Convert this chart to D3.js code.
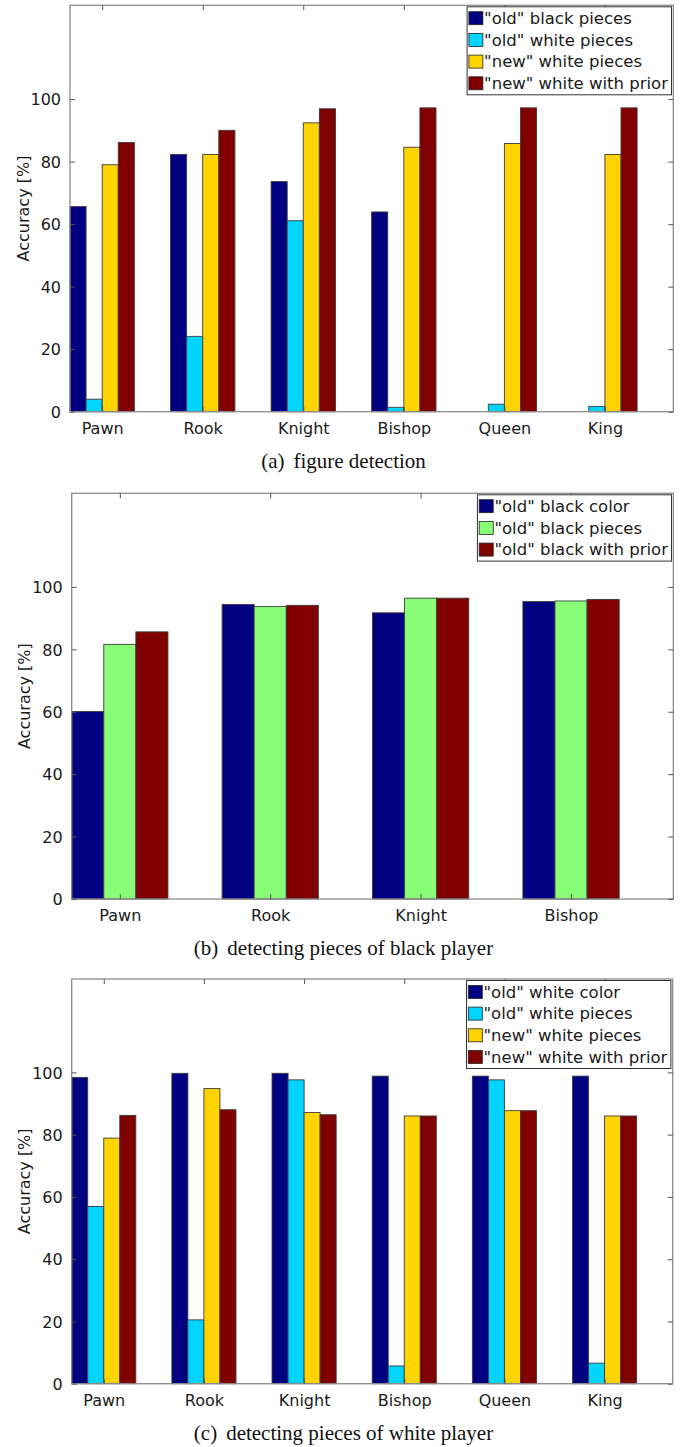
<!DOCTYPE html>
<html>
<head>
<meta charset="utf-8">
<script src="https://cdn.jsdelivr.net/npm/d3@7"></script>
<style>
  html, body { margin: 0; padding: 0; background: #fff; }
  svg { display: block; }
</style>
</head>
<body>
<svg id="fig" width="687" height="1447"></svg>
<script>
// ---- data ----
const piecesSix = ["Pawn", "Rook", "Knight", "Bishop", "Queen", "King"];
const piecesFour = ["Pawn", "Rook", "Knight", "Bishop"];
const yTicks = [0, 20, 40, 60, 80, 100];

// (a) figure detection
const detectionLabels = ['"old" black pieces', '"old" white pieces', '"new" white pieces', '"new" white with prior'];
const detOldBlack = [65.6, 82.3, 73.6, 63.9, 0, 0];
const detOldWhite = [4.0, 24.1, 61.1, 1.4, 2.4, 1.7];
const detNewWhite = [79.0, 82.3, 92.4, 84.6, 85.8, 82.3];
const detNewWhitePrior = [86.1, 90.0, 96.9, 97.2, 97.2, 97.2];

// (b) detecting pieces of black player
const blackLabels = ['"old" black color', '"old" black pieces', '"old" black with prior'];
const blackColor = [60.1, 94.4, 91.7, 95.3];
const blackPieces = [81.6, 93.7, 96.4, 95.5];
const blackPrior = [85.6, 94.1, 96.4, 96.0];

// (c) detecting pieces of white player
const whiteLabels = ['"old" white color', '"old" white pieces', '"new" white pieces', '"new" white with prior'];
const whiteColor = [98.4, 99.7, 99.7, 98.8, 98.8, 98.8];
const whiteOldPieces = [56.9, 20.5, 97.6, 5.7, 97.6, 6.6];
const whiteNewPieces = [78.9, 94.8, 87.1, 86.0, 87.7, 86.0];
const whiteNewPrior = [86.2, 88.0, 86.4, 86.0, 87.7, 86.0];

// ---- styling ----
const NAVY = "#000080", CYAN = "#00d4ff", YELLOW = "#ffd400", DARKRED = "#800000", GREEN = "#88ff77";
const SANS = "'DejaVu Sans', sans-serif";
const SERIF = "'Liberation Serif', 'Times New Roman', serif";
const PAGE_W = 687;

const svg = d3.select("#fig");

function drawPanel(p) {
  const g = svg.append("g");
  const n = p.categories.length;
  const k = p.series.length;

  const x = d3.scaleLinear().domain([0.68, n + 0.68]).range([p.left, p.right]);
  const y = d3.scaleLinear().domain([0, 130]).range([p.bottom, p.top]);

  const groupW = 0.64;
  const barW = groupW / k;

  // bars
  p.series.forEach((vals, s) => {
    g.append("g").selectAll("rect")
      .data(vals)
      .join("rect")
      .attr("x", (v, i) => x(i + 1 - groupW / 2 + s * barW))
      .attr("width", x(barW) - x(0))
      .attr("y", v => y(v))
      .attr("height", v => y(0) - y(v))
      .attr("fill", p.colors[s])
      .attr("stroke", "#3c3c3c")
      .attr("stroke-width", 0.9);
  });

  // frame
  g.append("rect")
    .attr("x", p.left).attr("y", p.top)
    .attr("width", p.right - p.left).attr("height", p.bottom - p.top)
    .attr("fill", "none").attr("stroke", "#8c8c8c").attr("stroke-width", 1.3);

  // y axes (left with labels, right mirrored), ticks pointing inward
  const yLeft = d3.axisLeft(y).tickValues(yTicks).tickSizeInner(-5).tickSizeOuter(0).tickPadding(9);
  const gl = g.append("g").attr("transform", `translate(${p.left},0)`).call(yLeft);
  const yRight = d3.axisRight(y).tickValues(yTicks).tickSizeInner(-5).tickSizeOuter(0).tickFormat("");
  const gr = g.append("g").attr("transform", `translate(${p.right},0)`).call(yRight);

  // x axes (bottom with labels, top mirrored)
  const cats = d3.range(1, n + 1);
  const xBottom = d3.axisBottom(x).tickValues(cats).tickSizeInner(-5).tickSizeOuter(0).tickPadding(11)
    .tickFormat(i => p.categories[i - 1]);
  const gb = g.append("g").attr("transform", `translate(0,${p.bottom})`).call(xBottom);
  const xTop = d3.axisTop(x).tickValues(cats).tickSizeInner(-5).tickSizeOuter(0).tickFormat("");
  const gt = g.append("g").attr("transform", `translate(0,${p.top})`).call(xTop);

  [gl, gr, gb, gt].forEach(a => {
    a.select(".domain").remove();
    a.selectAll(".tick line").attr("stroke", "#555").attr("stroke-width", 1);
    a.selectAll(".tick text").attr("fill", "#1a1a1a").attr("font-family", SANS).attr("font-size", 16);
  });
  gl.selectAll(".tick text").attr("dy", "0.36em");

  // y label
  g.append("text")
    .attr("transform", `translate(${p.left - 47},${(p.top + p.bottom) / 2}) rotate(-90)`)
    .attr("text-anchor", "middle")
    .attr("dy", "0.35em")
    .attr("font-family", SANS).attr("font-size", 16).attr("fill", "#1a1a1a")
    .text("Accuracy [%]");

  // legend
  const rowH = 21.7;
  const lg = g.append("g");
  const box = lg.append("rect").attr("fill", "#fff").attr("stroke", "#333").attr("stroke-width", 1);
  const rows = lg.selectAll("g.row").data(p.labels).join("g").attr("class", "row");
  const texts = rows.append("text")
    .attr("font-family", SANS).attr("font-size", 16.5).attr("fill", "#1a1a1a")
    .attr("dy", "0.35em")
    .text(d => d);
  let maxW = 0;
  texts.each(function () { maxW = Math.max(maxW, this.getComputedTextLength()); });
  const boxW = 1.8 + 14 + 1.2 + maxW + 3.5;
  const boxH = k * rowH + 1.2;
  const bx = p.right - 1.8 - boxW;
  const by = p.top + 1.5;
  box.attr("x", bx).attr("y", by).attr("width", boxW).attr("height", boxH);
  rows.attr("transform", (d, i) => `translate(${bx + 1.8},${by + 11.4 + i * rowH})`);
  rows.insert("rect", "text")
    .attr("x", 0).attr("y", -6.5).attr("width", 14).attr("height", 13)
    .attr("fill", (d, i) => p.colors[i])
    .attr("stroke", "#222").attr("stroke-width", 0.8);
  texts.attr("x", 15.2);

  // caption, centred on the page
  const cap = svg.append("text")
    .attr("x", PAGE_W / 2)
    .attr("y", p.bottom + 56)
    .attr("text-anchor", "middle")
    .attr("font-family", SERIF).attr("font-size", 21).attr("fill", "#111");
  cap.append("tspan").text(p.tag);
  cap.append("tspan").attr("dx", 9).text(p.caption);
}

drawPanel({
  left: 70, top: 5.3, right: 673.3, bottom: 411.7,
  categories: piecesSix,
  series: [detOldBlack, detOldWhite, detNewWhite, detNewWhitePrior],
  labels: detectionLabels,
  colors: [NAVY, CYAN, YELLOW, DARKRED],
  tag: "(a)", caption: "figure detection"
});

drawPanel({
  left: 71.7, top: 493.3, right: 673.3, bottom: 899,
  categories: piecesFour,
  series: [blackColor, blackPieces, blackPrior],
  labels: blackLabels,
  colors: [NAVY, GREEN, DARKRED],
  tag: "(b)", caption: "detecting pieces of black player"
});

drawPanel({
  left: 71.7, top: 979, right: 672.7, bottom: 1383.7,
  categories: piecesSix,
  series: [whiteColor, whiteOldPieces, whiteNewPieces, whiteNewPrior],
  labels: whiteLabels,
  colors: [NAVY, CYAN, YELLOW, DARKRED],
  tag: "(c)", caption: "detecting pieces of white player"
});
</script>
</body>
</html>
